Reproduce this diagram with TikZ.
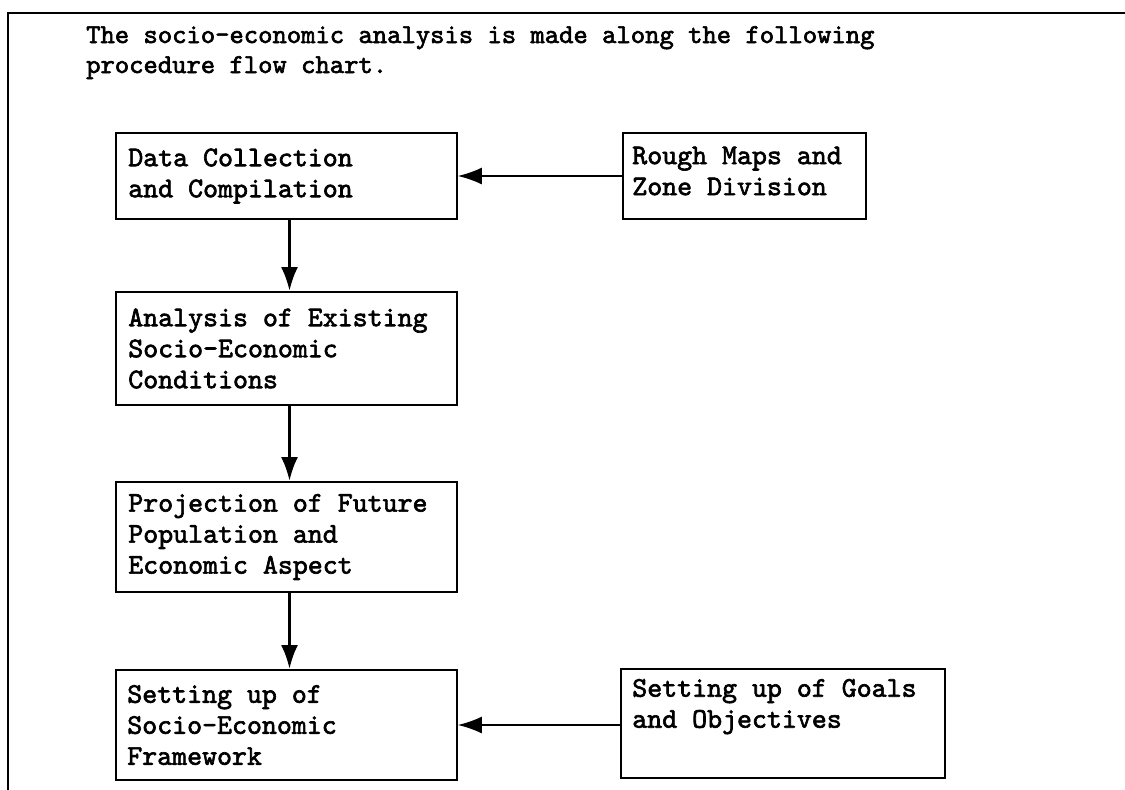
\documentclass[tikz,border=0pt]{standalone}
\usepackage{fontspec}
\newfontfamily\monob{lmmono10-regular}[Extension=.otf,FakeBold=2.2]
\usetikzlibrary{arrows.meta}
\begin{document}
\begin{tikzpicture}[x=1pt,y=-1pt,
  box/.style={draw=black,line width=1.8pt,rectangle,inner sep=0pt},
  txt/.style={anchor=west,align=left,inner sep=0pt,font=\monob\fontsize{28.5}{31}\selectfont},
  ttl/.style={anchor=base west,inner sep=0pt,font=\monob\fontsize{27.3}{30}\selectfont},
  varrow/.style={line width=3.2pt,-{Latex[length=24pt,width=17pt]}},
  harrow/.style={line width=1.5pt,-{Latex[length=24pt,width=17pt]}},
  frame/.style={line width=1.8pt}]
\useasboundingbox (0,0) rectangle (1125,790);
% frame
\draw[frame] (1125,13) -- (8,13) -- (8,790);
% title
\node[ttl] (title1) at (86,43) {The socio-economic analysis is made along the following};
\node[ttl] (title2) at (86,73) {procedure flow chart.};
% boxes
\node[box,minimum width=341pt,minimum height=86pt] (b1) at (286.5,176) {};
\node[box,minimum width=243pt,minimum height=86pt] (b2) at (744.5,176) {};
\node[box,minimum width=341pt,minimum height=113pt] (b3) at (286.5,348.5) {};
\node[box,minimum width=341pt,minimum height=110pt] (b4) at (286.5,537) {};
\node[box,minimum width=341pt,minimum height=110pt] (b5) at (286.5,725) {};
\node[box,minimum width=324pt,minimum height=109pt] (b6) at (783,723.5) {};
% texts
\node[txt] (t1) at ([xshift=13pt]b1.west) {Data Collection\\and Compilation};
\node[txt] (t2) at ([xshift=10pt,yshift=5pt]b2.west) {Rough Maps and\\Zone Division};
\node[txt] (t3) at ([xshift=13pt]b3.west) {Analysis of Existing\\Socio-Economic\\Conditions};
\node[txt] (t4) at ([xshift=13pt]b4.west) {Projection of Future\\Population and\\Economic Aspect};
\node[txt] (t5) at ([xshift=12pt]b5.west) {Setting up of\\Socio-Economic\\Framework};
\node[txt] (t6) at ([xshift=12pt]b6.west) {Setting up of Goals\\and Objectives\\\strut};
% connectors
\draw[harrow] (b2.west) -- (b1.east);
\draw[varrow] ([xshift=3pt]b1.south) -- ([xshift=3pt]b3.north);
\draw[varrow] ([xshift=3pt]b3.south) -- ([xshift=3pt]b4.north);
\draw[varrow] ([xshift=3pt]b4.south) -- ([xshift=3pt]b5.north);
\draw[harrow] (b6.west |- b5.east) -- (b5.east);
\end{tikzpicture}
\end{document}
